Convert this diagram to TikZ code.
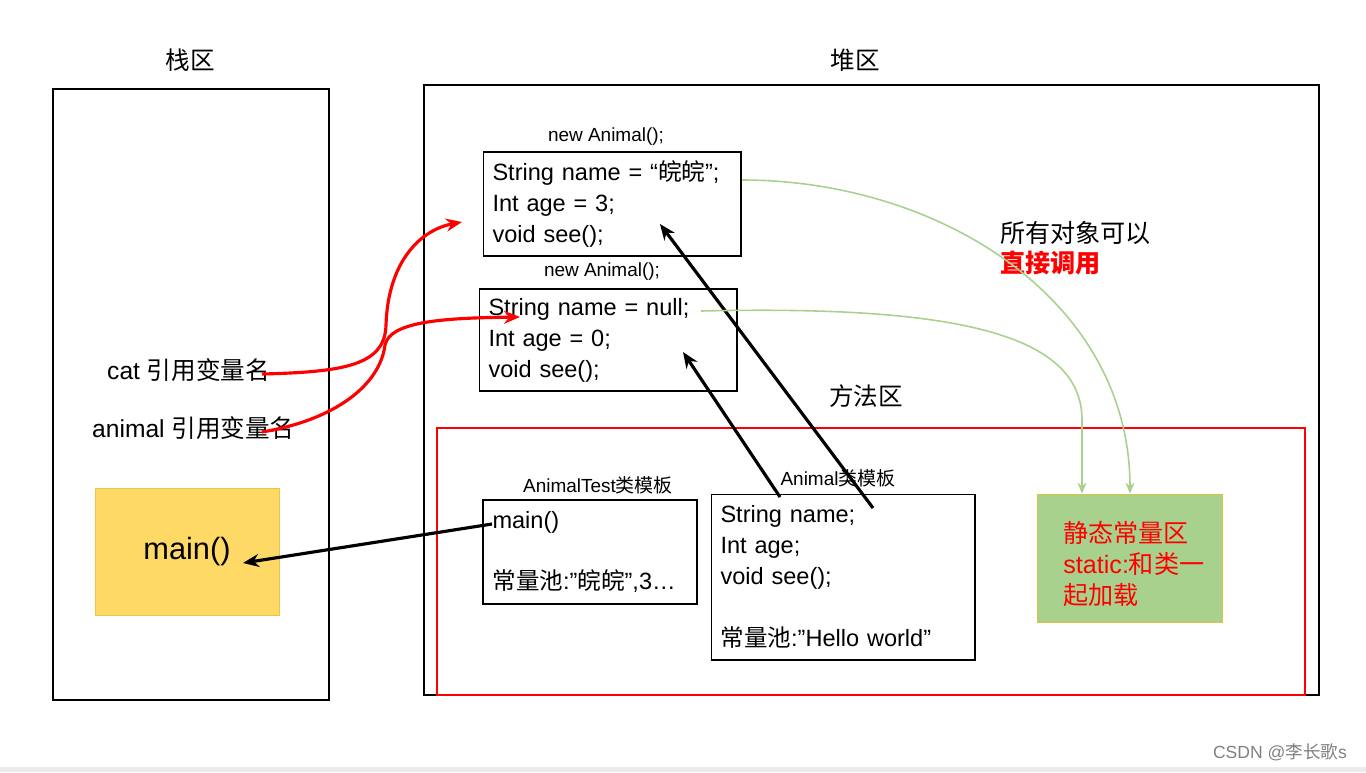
\documentclass[tikz,border=0pt]{standalone}
\usepackage{fontspec}
\setmainfont{Liberation Sans}
\newfontfamily\cjk{Noto Sans CJK SC}
\usetikzlibrary{arrows.meta}

\definecolor{yellowfill}{HTML}{FFD966}
\definecolor{yellowline}{HTML}{F0C24A}
\definecolor{greenfill}{HTML}{A9D18E}
\definecolor{greenline}{HTML}{A9D18E}
\definecolor{greenedge}{HTML}{D9C43A}

\begin{document}
\begin{tikzpicture}[
    x=0.02cm, y=-0.02cm,
    area/.style={draw, line width=0.6pt},
    title/.style={font=\fontsize{14}{16}\selectfont},
    small/.style={font=\fontsize{10.8}{12}\selectfont},
    code/.style={draw, line width=0.6pt, align=left, inner xsep=0.19cm,
        font=\fontsize{13.4}{17.6}\selectfont},
    refarrow/.style={red, line width=1.8pt, -{Stealth[length=3.2mm, width=2.6mm]}},
    ptrarrow/.style={black, line width=1.8pt, -{Stealth[length=3.2mm, width=2.6mm]}},
    callarrow/.style={greenline, line width=0.9pt, -{Stealth[length=2.2mm, width=1.8mm]}}
]
    \useasboundingbox (0,0) rectangle (1366,772);
    \fill[gray!15] (0,767) rectangle (1366,772);

    % --- Stack ---
    \node[title] (stacktitle) at (190,60) {\cjk 栈区};
    \draw[area] (53,89) rectangle (329,700);
    \node[title, anchor=west] (cat) at (101,370) {cat {\cjk 引用变量名}};
    \node[title, anchor=west] (animal) at (86,428) {animal {\cjk 引用变量名}};
    \node[draw=yellowline, fill=yellowfill, minimum width=3.68cm, minimum height=2.54cm,
        font=\fontsize{17.5}{20}\selectfont] (mainframe) at (187,552) {main()};

    % --- Heap ---
    \node[title] (heaptitle) at (855,60) {\cjk 堆区};
    \draw[area] (424,85) rectangle (1319,695);

    \node[small] (catlabel) at (606,137) {new Animal();};
    \node[code, text width=4.78cm, minimum height=2.08cm] (catobj) at (612,204)
        {String name = “{\cjk 皖皖}”;\\Int age = 3;\\void see();};
    \node[small] (animallabel) at (602,272) {new Animal();};
    \node[code, text width=4.78cm, minimum height=2.04cm] (animalobj) at (608,340)
        {String name = null;\\Int age = 0;\\void see();};

    \node[title, anchor=west, font=\cjk\fontsize{14.3}{16}\selectfont] (callall) at (994,233) {所有对象可以};
    \node[title, anchor=west, red, font=\cjk\fontsize{14.3}{16}\selectfont\bfseries] (callred) at (994,263) {直接调用};

    % --- Method area ---
    \node[title] (methodtitle) at (866,396) {\cjk 方法区};
    \draw[red, line width=0.9pt] (437,428) rectangle (1305,695);

    \node[small] (testlabel) at (598,485) {AnimalTest{\cjk 类模板}};
    \node[code, text width=3.9cm, minimum height=2.08cm] (testtpl) at (590,552)
        {main()\\\mbox{}\\ {\cjk 常量池}:”{\cjk 皖皖}”,3…};
    \node[small] (animaltplabel) at (838,478) {Animal{\cjk 类模板}};
    \node[code, text width=4.9cm, minimum height=3.32cm] (animaltpl) at (843,577)
        {String name;\\Int age;\\void see();\\\mbox{}\\{\cjk 常量池}:”Hello world”};

    \node[draw=greenedge, fill=greenfill, minimum width=3.7cm, minimum height=2.56cm]
        (staticarea) at (1130,558) {};
    \node[anchor=west, align=left, text=red, inner sep=0pt,
        font=\fontsize{14.3}{17.6}\selectfont] (statictext) at (1063,564)
        {{\cjk 静态常量区}\\static:{\cjk 和类一}\\{\cjk 起加载}};

    % --- Connectors ---
    \coordinate (catstart) at (262,374);
    \coordinate (catend) at (462,222);
    \coordinate (animalstart) at (262,432);
    \coordinate (animalend) at (520,317);
    \draw[refarrow] (catstart) .. controls (345,372) and (385,365) .. (386,325)
        .. controls (388,262) and (420,230) .. (catend);
    \draw[refarrow] (animalstart) .. controls (335,420) and (380,385) .. (385,345)
        .. controls (390,322) and (440,318) .. (animalend);

    \coordinate (tplstart1) at (780,497);
    \coordinate (tplend1) at (683,352);
    \coordinate (tplstart2) at (873,508);
    \coordinate (tplend2) at (660,224);
    \coordinate (mainstart) at (492,524);
    \coordinate (mainend) at (243,563);
    \draw[ptrarrow] (tplstart1) -- (tplend1);
    \draw[ptrarrow] (tplstart2) -- (tplend2);
    \draw[ptrarrow] (mainstart) -- (mainend);

    \coordinate (greenstart1) at (742,180);
    \coordinate (greenstart2) at (701,311);
    \coordinate (greenbend) at (1082,420);
    \draw[callarrow] (greenstart1) .. controls (940,180) and (1130,300) .. (staticarea.north);
    \draw[callarrow] (greenstart2) .. controls (960,305) and (1082,335) .. (greenbend)
        -- (greenbend |- staticarea.north);

    \node[gray, font=\fontsize{10}{11}\selectfont] (watermark) at (1280,752) {CSDN @{\cjk 李长歌}s};
\end{tikzpicture}
\end{document}
